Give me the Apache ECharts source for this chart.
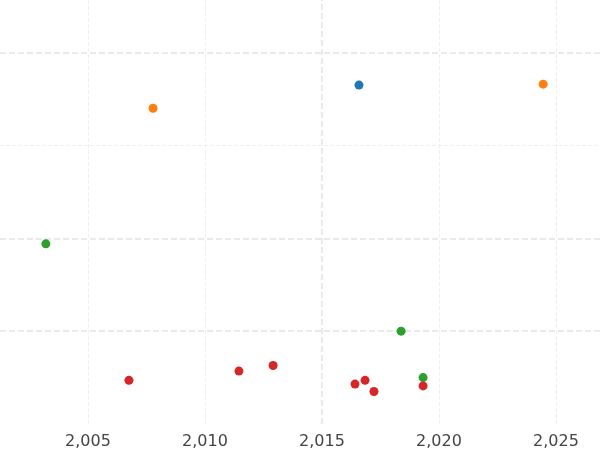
<!DOCTYPE html>
<html lang="en">
<head>
	<meta charset="UTF-8">
	<title></title>
</head>
<body style="margin:0">
	<div id="main" style="width: 600px;height: 450px"></div>
	<script src="https://cdn.jsdelivr.net/npm/echarts@6/dist/echarts.min.js"></script>
	<script>
		// 每组点：[年份, 数值]
		var blueData = [[2016.58, 3.65]];
		var orangeData = [[2007.78, 3.40], [2024.45, 3.66]];
		var greenData = [[2003.2, 1.94], [2018.38, 1.0], [2019.32, 0.50]];
		var redData = [[2006.75, 0.47], [2011.45, 0.57], [2012.91, 0.63], [2016.41, 0.43],
			[2016.84, 0.47], [2017.22, 0.35], [2019.32, 0.41]];
		var xTicks = [2005, 2010, 2015, 2020, 2025];
		var yLines = [1, 2, 3, 4];

		var myChart = echarts.init(document.getElementById('main'));

		function dots(data, color) {
			return {
				type: 'scatter',
				data: data,
				symbolSize: 9,
				itemStyle: { color: color, opacity: 1 }
			};
		}

		// 网格线用 markLine 画
		var gridLines = xTicks.map(function (v) {
			return { xAxis: v, lineStyle: { color: v === 2015 ? '#e2e2e2' : '#f0f0f0', width: v === 2015 ? 1.5 : 1 } };
		}).concat(yLines.map(function (v) {
			return { yAxis: v, lineStyle: { color: v === 3 ? '#f0f0f0' : '#e4e4e4', width: v === 3 ? 1 : 1.5 } };
		}));

		var s0 = dots(blueData, '#1f77b4');
		s0.markLine = { silent: true, symbol: 'none', label: { show: false }, data: gridLines, z: 0 };

		myChart.setOption({
			animation: false,
			grid: { left: 0, right: 0, top: 0, bottom: 22.5 },
			xAxis: {
				type: 'value',
				min: 2001.24,
				max: 2026.88,
				axisLine: { show: false },
				axisTick: { show: false },
				axisLabel: {
					color: '#444', fontSize: 16, fontFamily: 'DejaVu Sans', margin: 10,
					customValues: xTicks
				},
				splitLine: { show: false }
			},
			yAxis: {
				type: 'value',
				min: 0,
				max: 4.566,
				axisLine: { show: false },
				axisTick: { show: false },
				axisLabel: { show: false },
				splitLine: { show: false }
			},
			series: [
				s0,
				dots(orangeData, '#ff7f0e'),
				dots(greenData, '#2ca02c'),
				dots(redData, '#d62728')
			]
		});
	</script>
</body>
</html>
